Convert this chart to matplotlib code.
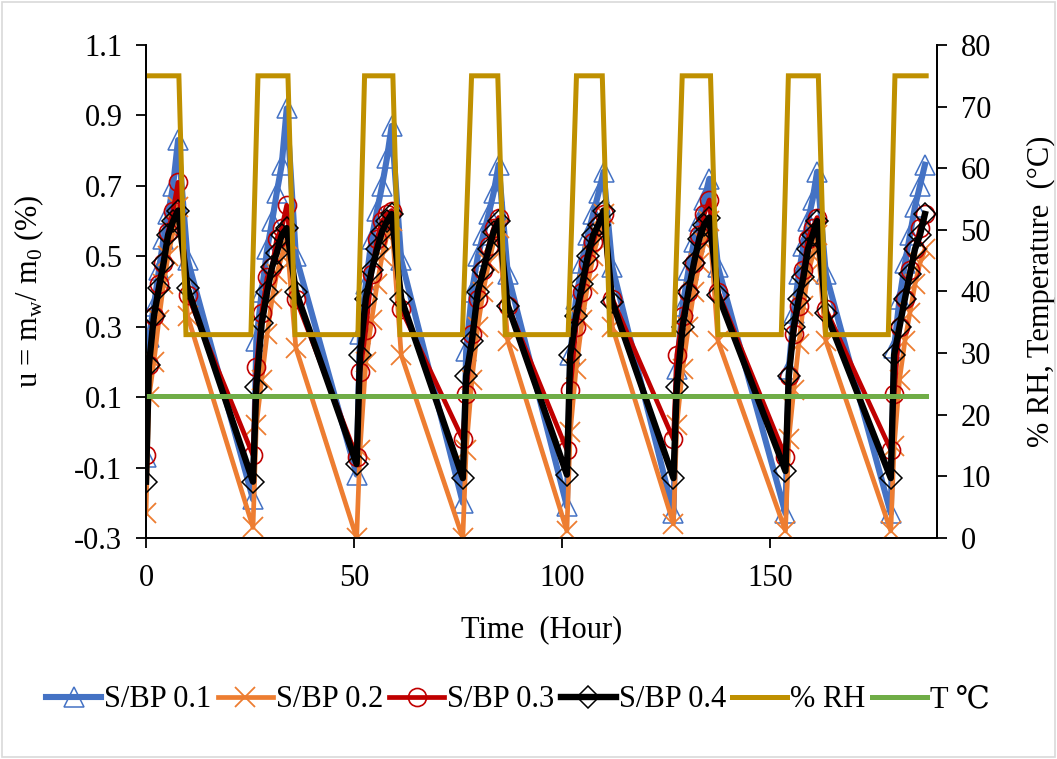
import matplotlib
matplotlib.use("Agg")
import matplotlib.pyplot as plt
from matplotlib.patches import Rectangle

plt.rcParams['font.family'] = ['Liberation Serif', 'DejaVu Serif']
plt.rcParams['mathtext.fontset'] = 'custom'
plt.rcParams['mathtext.rm'] = 'Liberation Serif'

# sampling times (hour), shared by the four S/BP series
time = [0, 0.7, 1.9, 3.1, 4.2, 5.3, 6.5, 7.7, 10.0,
        25.7, 26.5, 27.8, 29.1, 30.3, 31.4, 32.6, 33.8, 36.0,
        50.6, 51.4, 52.8, 54.2, 55.5, 56.7, 57.9, 59.0, 61.3,
        76.1, 76.9, 78.3, 79.7, 81.0, 82.3, 83.5, 84.7, 86.9,
        101.1, 101.9, 103.3, 104.8, 106.1, 107.4, 108.7, 109.9, 112.0,
        126.7, 127.5, 128.9, 130.3, 131.6, 132.9, 134.1, 135.3, 137.4,
        153.6, 154.4, 155.6, 156.8, 157.9, 159.0, 160.1, 161.2, 163.3,
        178.9, 179.7, 181.0, 182.3, 183.5, 184.7, 185.9, 187.1]

sbp_01 = [-0.07, 0.27, 0.36, 0.46, 0.55, 0.62, 0.70, 0.83, 0.49,
          -0.19, 0.26, 0.40, 0.52, 0.60, 0.68, 0.76, 0.92, 0.50,
          -0.12, 0.28, 0.42, 0.55, 0.63, 0.70, 0.78, 0.87, 0.49,
          -0.20, 0.23, 0.40, 0.50, 0.56, 0.62, 0.68, 0.76, 0.45,
          -0.21, 0.22, 0.38, 0.48, 0.56, 0.62, 0.68, 0.74, 0.47,
          -0.23, 0.18, 0.36, 0.46, 0.54, 0.60, 0.66, 0.72, 0.47,
          -0.23, 0.18, 0.34, 0.45, 0.53, 0.60, 0.66, 0.74, 0.45,
          -0.23, 0.24, 0.38, 0.48, 0.56, 0.64, 0.70, 0.76]

sbp_02 = [-0.23, 0.10, 0.20, 0.32, 0.42, 0.50, 0.57, 0.64, 0.33,
          -0.27, 0.02, 0.15, 0.28, 0.38, 0.45, 0.50, 0.55, 0.24,
          -0.30, -0.05, 0.20, 0.32, 0.42, 0.50, 0.56, 0.60, 0.22,
          -0.30, -0.05, 0.15, 0.30, 0.40, 0.48, 0.54, 0.58, 0.26,
          -0.28, 0.00, 0.18, 0.32, 0.42, 0.50, 0.56, 0.62, 0.30,
          -0.26, 0.02, 0.18, 0.30, 0.40, 0.48, 0.54, 0.60, 0.26,
          -0.28, -0.02, 0.12, 0.25, 0.36, 0.45, 0.50, 0.56, 0.26,
          -0.28, -0.04, 0.15, 0.26, 0.34, 0.42, 0.48, 0.52]

sbp_03 = [-0.065, 0.19, 0.33, 0.42, 0.48, 0.57, 0.63, 0.71, 0.39,
          -0.065, 0.186, 0.34, 0.44, 0.47, 0.55, 0.58, 0.645, 0.38,
          -0.07, 0.17, 0.29, 0.45, 0.55, 0.60, 0.62, 0.63, 0.35,
          -0.02, 0.11, 0.28, 0.38, 0.46, 0.53, 0.58, 0.61, 0.36,
          -0.05, 0.12, 0.30, 0.40, 0.48, 0.54, 0.59, 0.62, 0.38,
          -0.02, 0.22, 0.33, 0.40, 0.48, 0.56, 0.62, 0.66, 0.40,
          -0.07, 0.16, 0.28, 0.36, 0.46, 0.55, 0.58, 0.61, 0.35,
          -0.05, 0.11, 0.30, 0.38, 0.46, 0.52, 0.58, 0.62]

sbp_04 = [-0.14, 0.19, 0.33, 0.41, 0.48, 0.56, 0.60, 0.63, 0.41,
          -0.14, 0.13, 0.31, 0.40, 0.47, 0.51, 0.56, 0.58, 0.40,
          -0.09, 0.22, 0.38, 0.46, 0.52, 0.57, 0.60, 0.62, 0.38,
          -0.13, 0.16, 0.26, 0.40, 0.46, 0.52, 0.57, 0.60, 0.36,
          -0.12, 0.22, 0.33, 0.42, 0.50, 0.56, 0.59, 0.63, 0.37,
          -0.13, 0.13, 0.30, 0.40, 0.48, 0.55, 0.59, 0.61, 0.39,
          -0.11, 0.16, 0.30, 0.38, 0.44, 0.52, 0.56, 0.60, 0.34,
          -0.13, 0.22, 0.30, 0.38, 0.45, 0.52, 0.56, 0.62]

# relative humidity program
rh_time = [0, 7.9, 9.6, 25.2, 26.9, 34.1, 35.8, 50.9, 52.5, 59.3, 61.0,
           76.0, 78.2, 84.5, 86.3, 101.4, 103.4, 109.6, 111.4, 126.8,
           128.8, 135.6, 137.4, 152.6, 154.3, 161.5, 163.3, 178.3, 179.9, 187.4]
rh_value = [75, 75, 33, 33, 75, 75, 33, 33, 75, 75, 33,
            33, 75, 75, 33, 33, 75, 75, 33, 33,
            75, 75, 33, 33, 75, 75, 33, 33, 75, 75]

# temperature
t_time = [0, 187.4]
t_value = [23, 23]

fig = plt.figure(figsize=(10.57, 7.59), dpi=100)
fig.patches.append(Rectangle((0.002, 0.002), 0.996, 0.996, transform=fig.transFigure,
                             fill=False, edgecolor='#D9D9D9', linewidth=1.2))
ax = fig.add_axes([146 / 1057, 221 / 759, 791 / 1057, 493 / 759])
ax2 = ax.twinx()

fs = 22
ax.plot(time, sbp_01, color='#4472C4', lw=4.4, marker='^', ms=15, mfc='none',
        mec='#4472C4', mew=1.1, label='S/BP 0.1', zorder=2)
ax.plot(time, sbp_02, color='#ED7D31', lw=3.4, marker='x', ms=14,
        mec='#ED7D31', mew=1.3, label='S/BP 0.2', zorder=3)
ax.plot(time, sbp_03, color='#C00000', lw=3.4, marker='o', ms=13, mfc='none',
        mec='#C00000', mew=1.2, label='S/BP 0.3', zorder=4)
ax.plot(time, sbp_04, color='black', lw=4.6, marker='D', ms=11, mfc='none',
        mec='black', mew=1.1, label='S/BP 0.4', zorder=5)

ax2.plot(rh_time, rh_value, color='#BF9000', lw=3.6, label='% RH',
         solid_joinstyle='miter')
ax2.plot(t_time, t_value, color='#70AD47', lw=3.6, label='T \u2103')

ax.set_xlim(0, 190)
ax.set_ylim(-0.3, 1.1)
ax.set_yticks([-0.3, -0.1, 0.1, 0.3, 0.5, 0.7, 0.9, 1.1])
ax.set_yticklabels(['-0.3', '-0.1', '0.1', '0.3', '0.5', '0.7', '0.9', '1.1'])
ax.set_xticks([0, 50, 100, 150])
ax2.set_ylim(0, 80)
ax2.set_yticks(range(0, 81, 10))

for a in (ax, ax2):
    a.spines['top'].set_visible(False)
    for s in a.spines.values():
        s.set_linewidth(1.3)
    a.tick_params(direction='out', length=7, width=1.3, labelsize=fs)
ax.tick_params(axis='x', pad=12)
ax.tick_params(axis='y', pad=10)
ax2.tick_params(axis='y', pad=10)

ax.set_xlabel('Time  (Hour)', fontsize=fs, labelpad=16)
ax.set_ylabel('u = m$_\\mathregular{w}$/ m$_\\mathregular{0}$ (%)', fontsize=fs, labelpad=20)
ax2.set_ylabel('% RH, Temperature  (\u00b0C)', fontsize=fs, labelpad=26)

h1, l1 = ax.get_legend_handles_labels()
h2, l2 = ax2.get_legend_handles_labels()
fig.legend(h1 + h2, l1 + l2, loc='center', bbox_to_anchor=(0.49, 0.078), ncol=6,
           frameon=False, fontsize=fs, handlelength=1.8, handletextpad=0.1,
           columnspacing=0.2)

fig.savefig('out.png', dpi=100)
